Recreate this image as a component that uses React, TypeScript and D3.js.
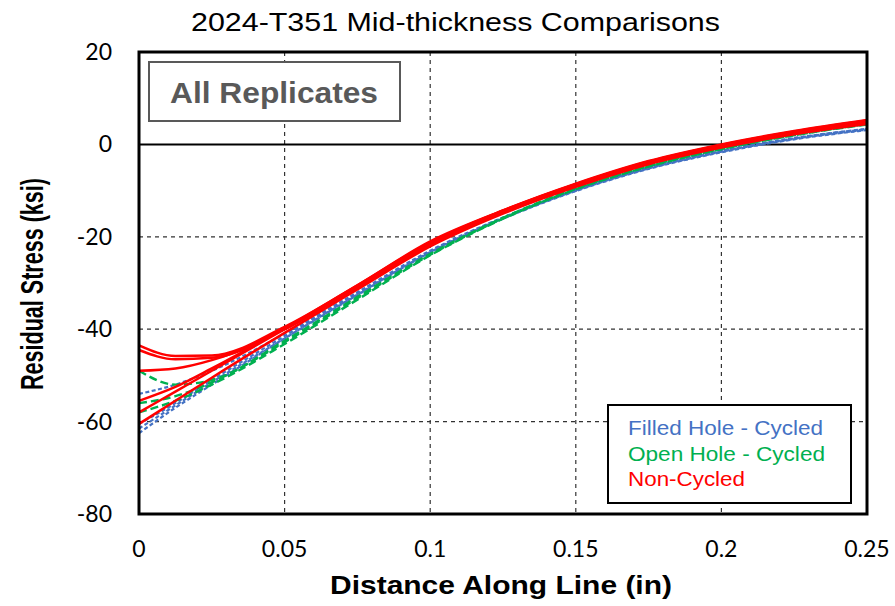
import React from "react";
import * as d3 from "d3";

// Sample positions along the line (in)
const distance = [0, 0.0125, 0.025, 0.05, 0.075, 0.1, 0.125, 0.15, 0.175, 0.2, 0.225, 0.25];

// Filled hole, cycled replicates (ksi)
const filledCycled = [
  [-54, -52, -49, -41, -32, -23, -15.8, -9.8, -5, -1.4, 1.4, 3.3],
  [-60.5, -56, -51, -41.5, -32.3, -23.2, -16, -10, -5.2, -1.6, 1.2, 3.2],
  [-61.5, -56.5, -51.5, -42, -32.6, -23.4, -16.1, -10.1, -5.3, -1.7, 1.1, 3.1],
  [-62.5, -57, -52, -42, -32.5, -23.3, -15.9, -9.9, -5.1, -1.5, 1.3, 3.4],
];

// Open hole, cycled replicates (ksi)
const openCycled = [
  [-49, -52, -51, -42.5, -33, -23.7, -15.9, -9.5, -4.6, -0.8, 2.2, 4.5],
  [-56, -54.5, -51.5, -42.8, -33.3, -23.9, -16, -9.6, -4.7, -1, 2, 4.3],
  [-58, -55.5, -52, -43.2, -33.6, -24, -16.1, -9.7, -4.8, -1, 2, 4.4],
];

// Non-cycled replicates (ksi)
const nonCycled = [
  [-43.5, -45.8, -45.7, -39.5, -30.5, -21, -14.3, -8.6, -3.7, -0.1, 2.8, 5.2],
  [-44.5, -46.5, -46.2, -40, -30.8, -21.4, -14.5, -8.8, -3.9, -0.3, 2.6, 5],
  [-49, -48.5, -46.7, -40, -30.7, -21.2, -14.3, -8.5, -3.6, 0, 2.9, 5.3],
  [-55.5, -52.5, -48.5, -39.8, -30.5, -21.2, -14.4, -8.6, -3.8, -0.2, 2.7, 5],
  [-58, -53.5, -49, -40, -31, -21.8, -14.8, -9, -4.1, -0.5, 2.4, 4.6],
  [-60.5, -55.5, -50.5, -40.8, -31.4, -22.1, -15, -9.2, -4.3, -0.7, 2.2, 4.4],
];

const xTicks = [0, 0.05, 0.1, 0.15, 0.2, 0.25];
const xTickLabels = ["0", "0.05", "0.1", "0.15", "0.2", "0.25"];
const yTicks = [20, 0, -20, -40, -60, -80];

const legendItems = [
  { label: "Filled Hole - Cycled", color: "#4472C4", len: 195 },
  { label: "Open Hole - Cycled", color: "#00B050", len: 197 },
  { label: "Non-Cycled", color: "#FF0000", len: 117 },
];

const W = 895;
const H = 606;
const left = 139;
const right = 867;
const top = 52;
const bottom = 514;

const SANS = "'Liberation Sans', Arial, sans-serif";
const TICK_FONT = "Lato, 'Liberation Sans', sans-serif";

export default function App() {
  const x = d3.scaleLinear().domain([0, 0.25]).range([left, right]);
  const y = d3.scaleLinear().domain([-80, 20]).range([bottom, top]);

  const line = d3
    .line<number>()
    .x((_, i) => x(distance[i]))
    .y((v) => y(v))
    .curve(d3.curveMonotoneX);

  return (
    <svg
      width={W}
      height={H}
      style={{ position: "absolute", left: 0, top: 0, background: "#fff" }}
    >
      <text
        x={191}
        y={31}
        fontFamily={SANS}
        fontSize={25}
        fill="#000"
        textLength={529}
        lengthAdjust="spacingAndGlyphs"
      >
        2024-T351 Mid-thickness Comparisons
      </text>

      {/* Grid */}
      {xTicks.slice(1, -1).map((t) => (
        <line
          key={"gx" + t}
          x1={x(t)}
          x2={x(t)}
          y1={top}
          y2={bottom}
          stroke="#333"
          strokeWidth={1.2}
          strokeDasharray="4,4"
        />
      ))}
      {yTicks.filter((t) => t !== 20 && t !== -80 && t !== 0).map((t) => (
        <line
          key={"gy" + t}
          x1={left}
          x2={right}
          y1={y(t)}
          y2={y(t)}
          stroke="#333"
          strokeWidth={1.2}
          strokeDasharray="4,4"
        />
      ))}
      <line x1={left} x2={right} y1={y(0)} y2={y(0)} stroke="#000" strokeWidth={2} />

      {/* Replicate curves */}
      {filledCycled.map((s, i) => (
        <path
          key={"b" + i}
          d={line(s) || ""}
          fill="none"
          stroke="#4472C4"
          strokeWidth={2.2}
          strokeDasharray="4,2.5"
        />
      ))}
      {openCycled.map((s, i) => (
        <path
          key={"g" + i}
          d={line(s) || ""}
          fill="none"
          stroke="#00B050"
          strokeWidth={2.4}
          strokeDasharray="8,4"
        />
      ))}
      {nonCycled.map((s, i) => (
        <path
          key={"r" + i}
          d={line(s) || ""}
          fill="none"
          stroke="#FF0000"
          strokeWidth={2.5}
        />
      ))}

      {/* Frame */}
      <rect
        x={left}
        y={top}
        width={right - left}
        height={bottom - top}
        fill="none"
        stroke="#000"
        strokeWidth={3}
      />

      {/* Tick labels */}
      {yTicks.map((t) => (
        <text
          key={"yl" + t}
          x={112}
          y={y(t) + 8}
          textAnchor="end"
          fontFamily={TICK_FONT}
          fontSize={23}
          fill="#000"
        >
          {t}
        </text>
      ))}
      {xTicks.map((t, i) => (
        <text
          key={"xl" + t}
          x={x(t)}
          y={557}
          textAnchor="middle"
          fontFamily={TICK_FONT}
          fontSize={23}
          fill="#000"
        >
          {xTickLabels[i]}
        </text>
      ))}

      {/* Axis titles */}
      <text
        x={330}
        y={594}
        fontFamily={SANS}
        fontWeight="bold"
        fontSize={25}
        fill="#000"
        textLength={342}
        lengthAdjust="spacingAndGlyphs"
      >
        Distance Along Line (in)
      </text>
      <text
        transform="translate(43,390) rotate(-90)"
        x={0}
        y={0}
        fontFamily={SANS}
        fontWeight="bold"
        fontSize={32}
        fill="#000"
        textLength={212}
        lengthAdjust="spacingAndGlyphs"
      >
        Residual Stress (ksi)
      </text>

      {/* Annotation box */}
      <rect x={149} y={62} width={251} height={59} fill="#fff" stroke="#595959" strokeWidth={2} />
      <text
        x={170}
        y={103}
        fontFamily={SANS}
        fontWeight="bold"
        fontSize={29}
        fill="#595959"
        textLength={208}
        lengthAdjust="spacingAndGlyphs"
      >
        All Replicates
      </text>

      {/* Legend */}
      <rect x={608} y={405} width={243} height={98} fill="#fff" stroke="#000" strokeWidth={2} />
      {legendItems.map((d, i) => (
        <text
          key={d.label}
          x={628}
          y={435 + i * 25.5}
          fontFamily={SANS}
          fontSize={21}
          fill={d.color}
          textLength={d.len}
          lengthAdjust="spacingAndGlyphs"
        >
          {d.label}
        </text>
      ))}
    </svg>
  );
}
